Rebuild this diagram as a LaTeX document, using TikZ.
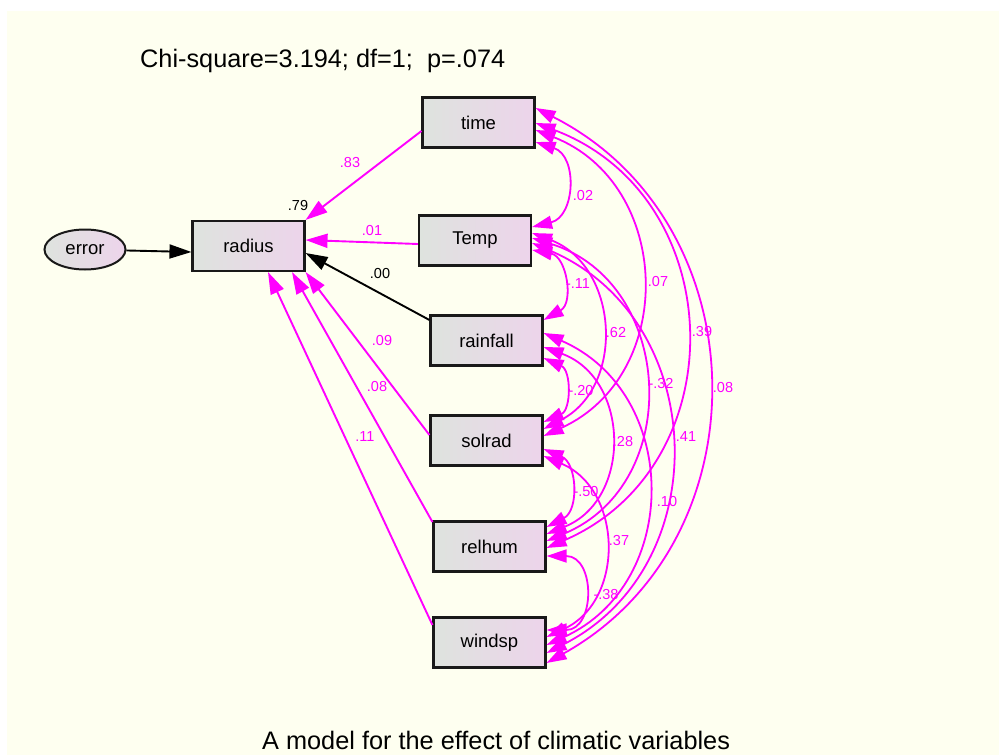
\documentclass[tikz,border=0pt]{standalone}
\usepackage{fontspec}
\setmainfont{Liberation Sans}
\usetikzlibrary{arrows.meta,shapes.geometric,calc}
\definecolor{bg}{RGB}{254,255,240}
\definecolor{boxL}{RGB}{222,227,222}
\definecolor{boxR}{RGB}{237,212,235}
\definecolor{mag}{RGB}{255,0,255}
\begin{document}
\begin{tikzpicture}[x=1pt,y=-1pt,
  var/.style={draw=black!90, line width=2.1pt, left color=boxL, right color=boxR,
    minimum width=112pt, minimum height=50pt, inner sep=0pt,
    font=\fontsize{18.5}{20}\selectfont},
  errvar/.style={ellipse, draw=black!90, line width=2pt, left color=boxL, right color=boxR,
    minimum width=81pt, minimum height=40pt, inner sep=0pt,
    font=\fontsize{18.5}{20}\selectfont},
  reg/.style={draw=mag, line width=1.9pt, -{Triangle[length=22pt,width=14pt]}},
  regk/.style={draw=black, line width=1.9pt, -{Triangle[length=22pt,width=14pt]}},
  cov/.style={draw=mag, line width=1.8pt,
    {Triangle[length=20pt,width=13pt]}-{Triangle[length=20pt,width=13pt]}},
  lab/.style={font=\fontsize{14.5}{16}\selectfont, text=mag, inner sep=0pt},
  labk/.style={font=\fontsize{14.5}{16}\selectfont, text=black, inner sep=0pt},
  big/.style={font=\fontsize{25.3}{28}\selectfont, inner sep=0pt, anchor=base west}]
\useasboundingbox (0,0) rectangle (999,755);
\clip (0,0) rectangle (999,755);
\fill[white] (0,0) rectangle (999,755);
\fill[bg] (7,11) rectangle (999,755);

\node[big] (title) at (140,67) {Chi-square=3.194; df=1; \ p=.074};
\node[big] (caption) at (262,749) {A model for the effect of climatic variables};

% variables
\node[var] (time) at (478.5,122.5) {time};
\node[var] (temp) at (475,240.5) {Temp};
\node[var] (rain) at (486.5,340.5) {rainfall};
\node[var] (sol) at (486.5,440.5) {solrad};
\node[var] (rel) at (489.5,546.5) {relhum};
\node[var] (wind) at (489.5,642.5) {windsp};
\node[var] (radius) at (248.5,246) {radius};
\node[errvar] (error) at (85,249.5) {error};

% regression paths
\coordinate (tS) at (time.west |- 0,131);
\coordinate (TS) at (temp.west |- 0,244);
\coordinate (RS) at (rain.west |- 0,320);
\coordinate (SS) at (sol.west |- 0,435);
\coordinate (HS) at (rel.west |- 0,522);
\coordinate (WS) at (wind.west |- 0,625);
\coordinate (rT) at (radius.east |- 0,240);
\coordinate (rR) at (radius.east |- 0,253);
\coordinate (rH) at (292,0 |- radius.south);
\coordinate (rW) at (268,0 |- radius.south);
\draw[regk] (error) -- (radius.west |- 0,252);
\draw[reg] (tS) -- (radius.north east);
\draw[reg] (TS) -- (rT);
\draw[regk] (RS) -- (rR);
\draw[reg] (SS) -- (radius.south east);
\draw[reg] (HS) -- (rH);
\draw[reg] (WS) -- (rW);

\node[lab] (l83) at (350,163) {.83};
\node[labk] (l79) at (298,206) {.79};
\node[lab] (l01) at (372,231) {.01};
\node[labk] (l00) at (380,274) {.00};
\node[lab] (l09) at (382,341) {.09};
\node[lab] (l08r) at (377,387) {.08};
\node[lab] (l11) at (365,437) {.11};

% covariance end points
\coordinate (t4) at (time.east |- 0,108);
\coordinate (t3) at (time.east |- 0,123);
\coordinate (t2) at (time.east |- 0,130);
\coordinate (t1) at (time.east |- 0,142);
\coordinate (T0) at (temp.east |- 0,227);
\coordinate (T2) at (temp.east |- 0,233);
\coordinate (T3) at (temp.east |- 0,238);
\coordinate (T4) at (temp.east |- 0,243);
\coordinate (T1) at (temp.east |- 0,250);
\coordinate (R0) at (rain.east |- 0,320);
\coordinate (R3) at (rain.east |- 0,333);
\coordinate (R2) at (rain.east |- 0,347);
\coordinate (R1) at (rain.east |- 0,358);
\coordinate (S0) at (sol.east |- 0,422);
\coordinate (S1) at (sol.east |- 0,429);
\coordinate (S2) at (sol.east |- 0,436);
\coordinate (S3) at (sol.east |- 0,449);
\coordinate (S4) at (sol.east |- 0,456);
\coordinate (H0) at (rel.east |- 0,527);
\coordinate (H1) at (rel.east |- 0,534);
\coordinate (H2) at (rel.east |- 0,541);
\coordinate (H3) at (rel.east |- 0,548);
\coordinate (H4) at (rel.east |- 0,556);
\coordinate (W0) at (wind.east |- 0,630);
\coordinate (W1) at (wind.east |- 0,637);
\coordinate (W2) at (wind.east |- 0,645);
\coordinate (W3) at (wind.east |- 0,653);
\coordinate (W4) at (wind.east |- 0,663);

% covariances
\draw[cov] (t1) to[bend left=74, looseness=1.34] (T0);
\draw[cov] (t2) to[bend left=67, looseness=1.23] (S2);
\draw[cov] (t3) to[bend left=68, looseness=1.25] (H3);
\draw[cov] (t4) to[bend left=62, looseness=1.16] (W4);
\draw[cov] (T1) to[bend left=70, looseness=1.27] (R0);
\draw[cov] (T2) to[bend left=66, looseness=1.21] (S1);
\draw[cov] (T3) to[bend left=70, looseness=1.26] (H2);
\draw[cov] (T4) to[bend left=65, looseness=1.20] (W3);
\draw[cov] (R1) to[bend left=66, looseness=1.22] (S0);
\draw[cov] (R2) to[bend left=69, looseness=1.26] (H1);
\draw[cov] (R3) to[bend left=66, looseness=1.22] (W2);
\draw[cov] (S3) to[bend left=65, looseness=1.20] (H0);
\draw[cov] (S4) to[bend left=66, looseness=1.22] (W1);
\draw[cov] (H4) to[bend left=90, looseness=1.7] (W0);

\node[lab] (c02) at (583,196) {.02};
\node[lab] (c11) at (578,284) {-.11};
\node[lab] (c07) at (658,282) {.07};
\node[lab] (c62) at (616,333) {.62};
\node[lab] (c39) at (702,332) {.39};
\node[lab] (c20) at (581,391) {-.20};
\node[lab] (c32) at (661,384) {-.32};
\node[lab] (c08) at (723,388) {.08};
\node[lab] (c28) at (623,442) {.28};
\node[lab] (c41) at (686,437) {.41};
\node[lab] (c50) at (586,492) {-.50};
\node[lab] (c10) at (667,502) {.10};
\node[lab] (c37) at (619,541) {.37};
\node[lab] (c38) at (606,595) {-.38};
\end{tikzpicture}
\end{document}
